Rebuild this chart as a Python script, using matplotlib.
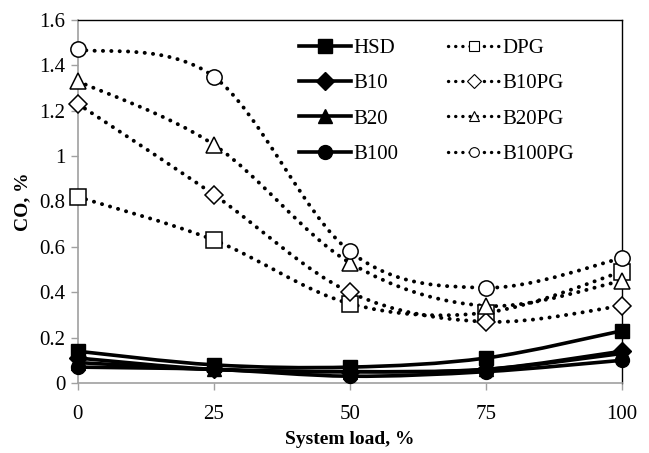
import numpy as np
import matplotlib.pyplot as plt
from matplotlib.path import Path
from matplotlib.patches import PathPatch
from matplotlib.lines import Line2D
from matplotlib.ticker import FuncFormatter

plt.rcParams['font.family'] = ['Liberation Serif', 'DejaVu Serif']

# data
load = [0, 25, 50, 75, 100]
hsd = [0.14, 0.08, 0.07, 0.11, 0.23]
b10 = [0.11, 0.06, 0.05, 0.06, 0.14]
b20 = [0.09, 0.06, 0.05, 0.06, 0.13]
b100 = [0.07, 0.06, 0.03, 0.05, 0.10]
dpg = [0.82, 0.63, 0.35, 0.31, 0.49]
b10pg = [1.23, 0.83, 0.40, 0.27, 0.34]
b20pg = [1.33, 1.05, 0.53, 0.34, 0.45]
b100pg = [1.47, 1.35, 0.58, 0.42, 0.55]

solid = [("HSD", hsd, "s"), ("B10", b10, "D"), ("B20", b20, "^"), ("B100", b100, "o")]
dotted = [("DPG", dpg, "s"), ("B10PG", b10pg, "D"), ("B20PG", b20pg, "^"), ("B100PG", b100pg, "o")]


def smooth_path(x, y):
    # Excel style smoothed line: Catmull-Rom segments as cubic beziers
    p = np.column_stack([x, y]).astype(float)
    pts = np.vstack([p[0], p, p[-1]])
    verts = [p[0]]
    codes = [Path.MOVETO]
    for i in range(1, len(pts) - 2):
        c1 = pts[i] + (pts[i + 1] - pts[i - 1]) / 6
        c2 = pts[i + 1] - (pts[i + 2] - pts[i]) / 6
        verts += [c1, c2, pts[i + 1]]
        codes += [Path.CURVE4] * 3
    return Path(verts, codes)


fig = plt.figure(figsize=(6.49, 4.53), dpi=100)
ax = fig.add_axes([0.120, 0.1545, 0.838, 0.8015])

dots = (0, (0.05, 2.1))
handles = []
for name, vals, m in solid:
    ax.add_patch(PathPatch(smooth_path(load, vals), fill=False, lw=2.6, ec='black', zorder=3))
    ms = 9 if m == "D" else 10
    ax.plot(load, vals, ls='none', marker=m, ms=ms, color='black', zorder=4, clip_on=False)
    handles.append(Line2D([], [], color='black', lw=2.6, marker=m, ms=ms))

for name, vals, m in dotted:
    ax.add_patch(PathPatch(smooth_path(load, vals), fill=False, lw=2.8, ec='black',
                           ls=dots, capstyle='round', zorder=3))
    ax.plot(load, vals, ls='none', marker=m, ms=11 if m != "D" else 9,
            mfc='white', mec='black', mew=1.1, zorder=4, clip_on=False)
    handles.append(Line2D([], [], color='black', lw=2.4, ls=dots, dash_capstyle='round',
                          marker=m, ms=7, mfc='white', mec='black', mew=0.8))

ax.set_xlim(0, 100)
ax.set_ylim(0, 1.6)
ax.set_xticks(load)
ax.set_yticks(np.arange(0, 1.61, 0.2))
ax.yaxis.set_major_formatter(FuncFormatter(lambda v, p: "%g" % round(v, 1)))
ax.tick_params(axis='both', direction='out', length=5, width=1, color='#a0a0a0',
               labelsize=15, pad=4)
ax.tick_params(axis='x', pad=11)

for s in ['left', 'bottom']:
    ax.spines[s].set_color('#a0a0a0')
    ax.spines[s].set_linewidth(1.2)
for s in ['top', 'right']:
    ax.spines[s].set_color('black')
    ax.spines[s].set_linewidth(1.0)

ax.set_xlabel('System load, %', fontsize=14, fontweight='bold', labelpad=5)
ax.set_ylabel('CO, %', fontsize=14, fontweight='bold', labelpad=6)

labels = [s[0] for s in solid] + [s[0] for s in dotted]
ax.legend(handles, labels, ncol=2, loc='upper left', bbox_to_anchor=(0.372, 1.0),
          frameon=False, fontsize=15, handlelength=2.5, handletextpad=0.1,
          columnspacing=2.4, labelspacing=0.75)

fig.savefig('out.png', dpi=100)
